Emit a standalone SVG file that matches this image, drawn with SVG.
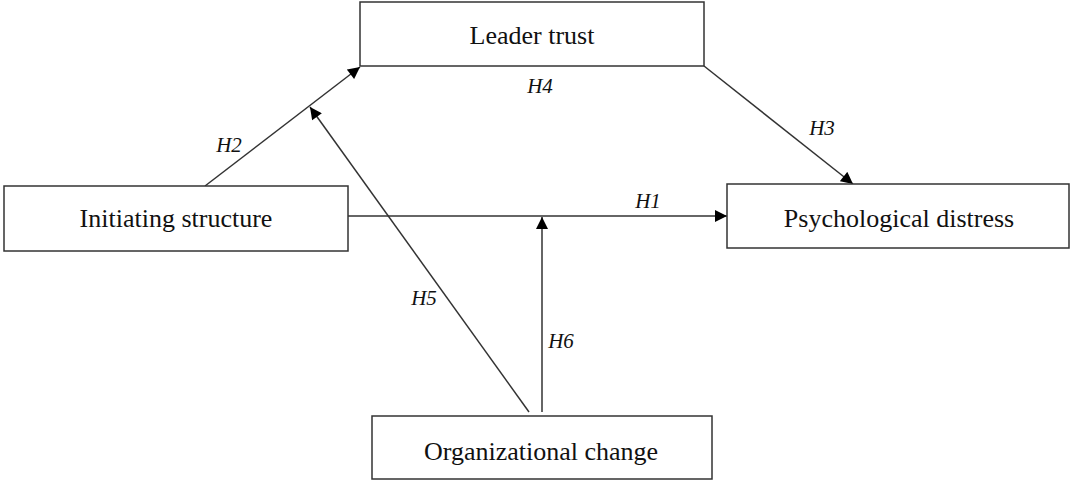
<svg xmlns="http://www.w3.org/2000/svg" width="1071" height="482" viewBox="0 0 1071 482">
<style>
.box{fill:#fff;stroke:#333;stroke-width:1.5}
.t{font-family:"Liberation Serif",serif;font-size:26px;fill:#111;text-anchor:middle}
.h{font-family:"Liberation Serif",serif;font-size:21px;font-style:italic;fill:#111;text-anchor:middle}
.c{stroke:#333;stroke-width:1.5;fill:none;marker-end:url(#ah)}
</style>
<defs>
<marker id="ah" viewBox="0 0 10 10" refX="10" refY="5" markerWidth="13" markerHeight="12" markerUnits="userSpaceOnUse" orient="auto">
<path d="M0,0 L10,5 L0,10 z" fill="#000"/>
</marker>
</defs>
<g id="connectors">
<line class="c" x1="348" y1="216" x2="727" y2="216"/>
<line class="c" x1="205" y1="186" x2="360" y2="67"/>
<line class="c" x1="529" y1="412" x2="310" y2="107"/>
<line class="c" x1="542" y1="412" x2="542" y2="217"/>
<line class="c" x1="704" y1="66" x2="853" y2="184"/>
<text class="h" x="540" y="93">H4</text>
<text class="h" x="229" y="152">H2</text>
<text class="h" x="822" y="135">H3</text>
<text class="h" x="648" y="208">H1</text>
<text class="h" x="424" y="305">H5</text>
<text class="h" x="561" y="348">H6</text>
</g>
<g id="leader-trust">
<rect class="box" x="360" y="2" width="344" height="64"/>
<text class="t" x="532" y="44">Leader trust</text>
</g>
<g id="initiating-structure">
<rect class="box" x="4" y="186" width="344" height="65"/>
<text class="t" x="176" y="227">Initiating structure</text>
</g>
<g id="psychological-distress">
<rect class="box" x="727" y="184" width="342" height="64"/>
<text class="t" x="899" y="227">Psychological distress</text>
</g>
<g id="organizational-change">
<rect class="box" x="372" y="416" width="340" height="63"/>
<text class="t" x="541" y="460">Organizational change</text>
</g>
</svg>
